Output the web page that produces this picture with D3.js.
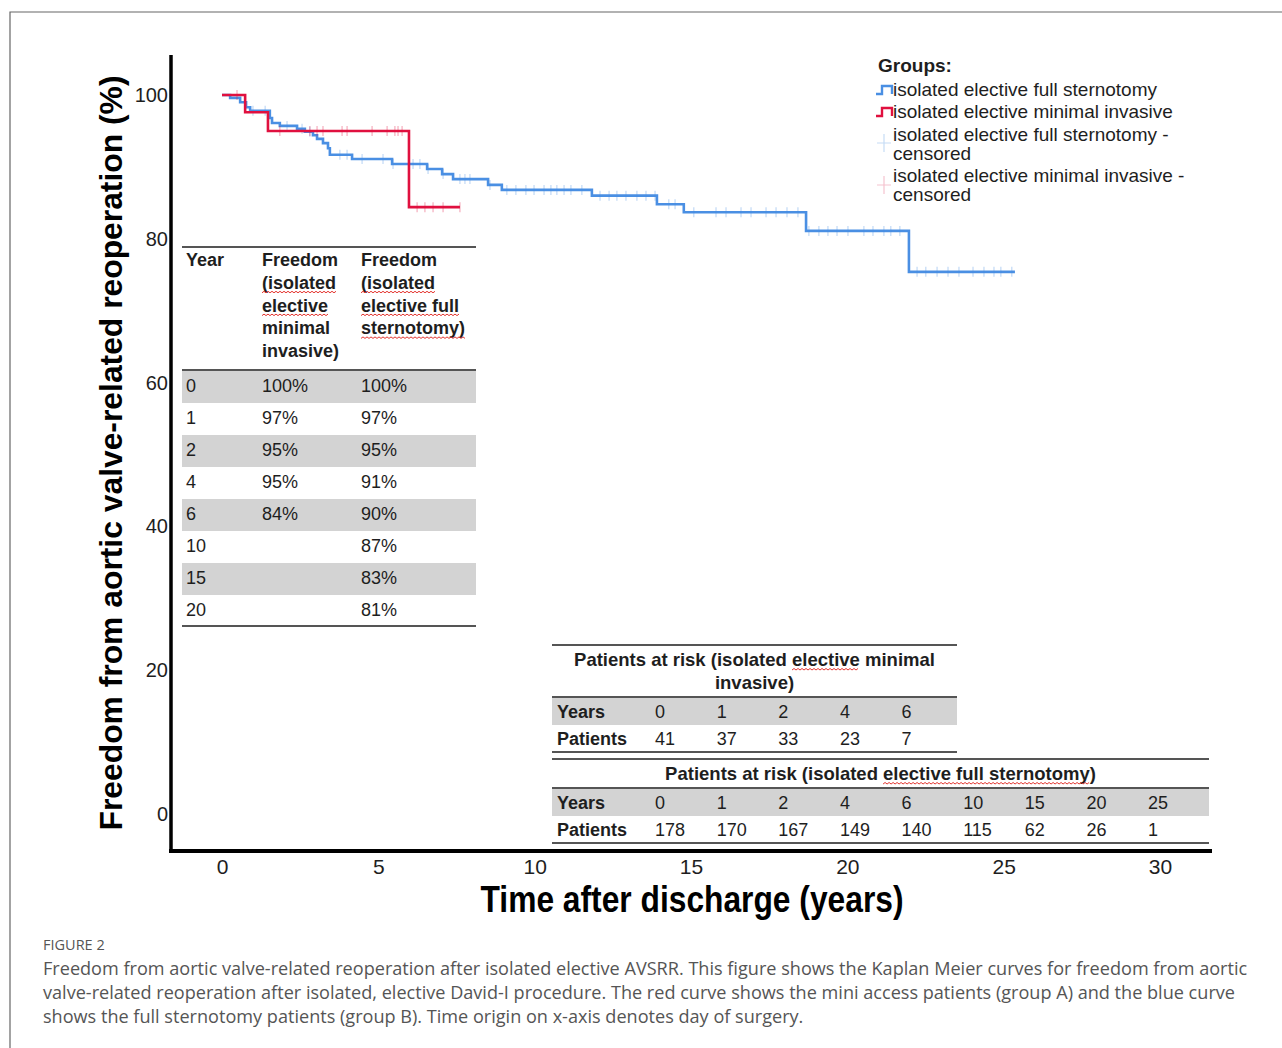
<!DOCTYPE html>
<html>
<head>
<meta charset="utf-8">
<script src="https://cdn.jsdelivr.net/npm/d3@7"></script>
<style>
  body { margin: 0; background: #fff; }
</style>
</head>
<body>
<div id="my_viz"></div>
<script>
var width = 1282,
    height = 1048;

// axis ticks
var xTicks = [0, 5, 10, 15, 20, 25, 30];
var yTicks = [0, 20, 40, 60, 80, 100];

// Kaplan-Meier steps, full sternotomy (years, % freedom)
var fullTimes = [0, 0.26, 0.58, 0.77, 0.9, 1.53, 1.6, 1.85, 2.4, 2.65, 2.91, 3.04, 3.23, 3.39, 3.45, 4.16, 5.44, 6.56, 7.04, 7.39, 8.51, 8.95, 11.83, 13.91, 14.77, 18.68, 21.97, 25.36];
var fullSurv  = [100, 99.6, 99.0, 98.3, 97.8, 96.8, 96.1, 95.7, 95.3, 94.9, 94.4, 93.9, 93.3, 92.6, 91.7, 91.1, 90.4, 89.7, 89.0, 88.3, 87.5, 86.8, 86.0, 84.8, 83.7, 81.1, 75.4, 75.4];
var fullCensor = [0.99, 1.38, 2.08, 2.56, 2.81, 3.77, 4.0, 4.48, 5.15, 5.47, 6.11, 6.33, 6.59, 7.07, 7.61, 7.77, 7.93, 8.57, 9.11, 9.4, 9.72, 9.98, 10.3, 10.52, 10.71, 10.94, 11.16, 11.51, 12.09, 12.38, 12.63, 12.92, 13.27, 13.56, 13.85, 14.29, 14.49, 15.09, 15.8, 16.12, 16.6, 16.92, 17.4, 17.72, 18.07, 18.42, 18.77, 19.09, 19.38, 19.67, 20.02, 20.53, 20.82, 21.17, 21.39, 21.68, 22.23, 22.51, 22.87, 23.22, 23.57, 24.02, 24.37, 24.69, 24.91, 25.26];

// Kaplan-Meier steps, minimal invasive
var miniTimes = [0, 0.74, 1.47, 5.98, 7.61];
var miniSurv  = [100, 97.6, 95.0, 84.4, 84.4];
var miniCensor = [0.48, 1.85, 2.81, 3.04, 3.23, 3.84, 4.0, 4.8, 5.28, 5.53, 5.63, 5.76, 6.24, 6.49, 6.75, 7.07, 7.61];

// freedom table
var freedomYears = ["0", "1", "2", "4", "6", "10", "15", "20"];
var freedomMini  = ["100%", "97%", "95%", "95%", "84%", "", "", ""];
var freedomFull  = ["100%", "97%", "95%", "91%", "90%", "87%", "83%", "81%"];

// patients at risk
var riskMiniYears = [0, 1, 2, 4, 6];
var riskMiniPatients = [41, 37, 33, 23, 7];
var riskFullYears = [0, 1, 2, 4, 6, 10, 15, 20, 25];
var riskFullPatients = [178, 170, 167, 149, 140, 115, 62, 26, 1];

var legendLabels = ["isolated elective full sternotomy", "isolated elective minimal invasive",
                    "isolated elective full sternotomy -", "isolated elective minimal invasive -"];

var blue = "#4a8fe3",
    red = "#e0103f",
    textCol = "#1e1e1e",
    narrow = "'Liberation Sans Narrow', 'Liberation Sans', Arial, sans-serif";

var svg = d3.select("#my_viz")
    .append("svg")
    .attr("width", width)
    .attr("height", height)
    .attr("font-family", "'Liberation Sans', Arial, sans-serif")
    .style("background", "white");

// frame of the figure
svg.append("path")
    .attr("d", "M10,1048 V12 H1282")
    .attr("fill", "none")
    .attr("stroke", "#666")
    .attr("stroke-width", 1.2);

var x = d3.scaleLinear().domain([0, 30]).range([222, 1160]);
var y = d3.scaleLinear().domain([0, 100]).range([814, 95]);

// axes
var xAxis = svg.append("g")
    .attr("transform", "translate(0,851)")
    .call(d3.axisBottom(x).tickValues(xTicks).tickSize(0));
xAxis.attr("font-family", narrow).attr("font-size", 21);
xAxis.select(".domain").remove();
xAxis.selectAll("text")
    .attr("y", 23).attr("dy", 0)
    .attr("fill", textCol);

var yAxis = svg.append("g")
    .attr("transform", "translate(171,0)")
    .call(d3.axisLeft(y).tickValues(yTicks).tickSize(0));
yAxis.attr("font-family", "'Liberation Sans', Arial, sans-serif").attr("font-size", 20);
yAxis.select(".domain").remove();
yAxis.selectAll("text")
    .attr("x", -3)
    .attr("fill", textCol);

svg.append("line").attr("x1", 171).attr("x2", 171).attr("y1", 55).attr("y2", 853)
    .attr("stroke", "black").attr("stroke-width", 3.5);
svg.append("line").attr("x1", 169).attr("x2", 1212).attr("y1", 851).attr("y2", 851)
    .attr("stroke", "black").attr("stroke-width", 4);

svg.append("text")
    .attr("x", 692).attr("y", 912)
    .attr("text-anchor", "middle")
    .attr("font-family", narrow)
    .attr("font-size", 36)
    .attr("font-weight", "bold")
    .attr("textLength", 423).attr("lengthAdjust", "spacingAndGlyphs")
    .attr("fill", "black")
    .text("Time after discharge (years)");

svg.append("text")
    .attr("transform", "translate(122,453) rotate(-90)")
    .attr("text-anchor", "middle")
    .attr("font-size", 31)
    .attr("font-weight", "bold")
    .attr("textLength", 755).attr("lengthAdjust", "spacingAndGlyphs")
    .attr("fill", "black")
    .text("Freedom from aortic valve-related reoperation (%)");

// curves
var step = d3.line()
    .x(function (d) { return x(d[0]); })
    .y(function (d) { return y(d[1]); })
    .curve(d3.curveStepAfter);

function survAt(times, surv, t) {
    var s = surv[0];
    for (var i = 0; i < times.length; i++) { if (times[i] <= t) s = surv[i]; }
    return s;
}

var groups = [
    { times: fullTimes, surv: fullSurv, censor: fullCensor, color: blue },
    { times: miniTimes, surv: miniSurv, censor: miniCensor, color: red }
];

groups.forEach(function (g) {
    var pts = g.times.map(function (t, i) { return [t, g.surv[i]]; });
    svg.append("path")
        .datum(pts)
        .attr("d", step)
        .attr("fill", "none")
        .attr("stroke", g.color)
        .attr("stroke-width", 2.6);

    svg.append("g").selectAll("line")
        .data(g.censor)
        .enter().append("line")
        .attr("x1", function (d) { return x(d); })
        .attr("x2", function (d) { return x(d); })
        .attr("y1", function (d) { return y(survAt(g.times, g.surv, d)) - 5; })
        .attr("y2", function (d) { return y(survAt(g.times, g.surv, d)) + 5; })
        .attr("stroke", g.color)
        .attr("stroke-opacity", 0.35)
        .attr("stroke-width", 1.2);
});

// legend
var legend = svg.append("g").attr("transform", "translate(876,0)");
legend.append("text").attr("x", 2).attr("y", 72)
    .attr("font-size", 19).attr("font-weight", "bold").attr("fill", textCol)
    .text("Groups:");

[{ c: blue, y: 96 }, { c: red, y: 118 }].forEach(function (d) {
    legend.append("path")
        .attr("d", "M0," + (d.y - 2) + " h6 v-8 h10 v8")
        .attr("fill", "none").attr("stroke", d.c).attr("stroke-width", 2.4);
});
[{ c: "#c6dcf6", y: 143 }, { c: "#f6c3cf", y: 185 }].forEach(function (d) {
    legend.append("path")
        .attr("d", "M8," + (d.y - 9) + " v18 M1," + d.y + " h14")
        .attr("fill", "none").attr("stroke", d.c).attr("stroke-width", 1.2);
});

var legendLines = [
    { t: legendLabels[0], y: 96 },
    { t: legendLabels[1], y: 118 },
    { t: legendLabels[2], y: 141 },
    { t: "censored", y: 160 },
    { t: legendLabels[3], y: 182 },
    { t: "censored", y: 201 }
];
legend.selectAll(".legends").data(legendLines).enter()
    .append("text")
    .classed("legends", true)
    .attr("x", 17)
    .attr("y", function (d) { return d.y; })
    .attr("font-size", 19)
    .attr("fill", textCol)
    .text(function (d) { return d.t; });

// wavy spell-check underline
function squiggle(x0, x1, yy) {
    var p = "M" + x0 + "," + yy;
    var up = true;
    for (var xx = x0 + 2; xx <= x1; xx += 2) {
        p += " L" + xx + "," + (yy + (up ? -1.5 : 0));
        up = !up;
    }
    svg.append("path").attr("d", p).attr("fill", "none")
        .attr("stroke", "#e3342f").attr("stroke-width", 1);
}
function underlineWord(textNode, word, dy) {
    var s = textNode.textContent;
    var i = s.indexOf(word);
    if (i < 0) return;
    var x0 = +textNode.getAttribute("x") + (i > 0 ? textNode.getSubStringLength(0, i) : 0);
    var w = textNode.getSubStringLength(i, word.length);
    var anchor = textNode.getAttribute("text-anchor");
    if (anchor === "middle") x0 -= textNode.getComputedTextLength() / 2;
    squiggle(x0, x0 + w, +textNode.getAttribute("y") + dy);
}

// freedom table
var ft = svg.append("g");
var rowTop = 371, rowH = 32;
freedomYears.forEach(function (d, i) {
    if (i % 2 === 0) {
        ft.append("rect").attr("x", 182).attr("y", rowTop + i * rowH)
            .attr("width", 294).attr("height", rowH).attr("fill", "#d3d3d3");
    }
    var by = rowTop + i * rowH + 21;
    ft.append("text").attr("x", 186).attr("y", by).attr("font-size", 18).attr("fill", textCol).text(d);
    ft.append("text").attr("x", 262).attr("y", by).attr("font-size", 18).attr("fill", textCol).text(freedomMini[i]);
    ft.append("text").attr("x", 361).attr("y", by).attr("font-size", 18).attr("fill", textCol).text(freedomFull[i]);
});
[247, 370, 626].forEach(function (ly) {
    ft.append("line").attr("x1", 182).attr("x2", 476).attr("y1", ly).attr("y2", ly)
        .attr("stroke", "#555").attr("stroke-width", 2);
});
ft.append("text").attr("x", 186).attr("y", 266).attr("font-size", 18)
    .attr("font-weight", "bold").attr("fill", textCol).text("Year");
var headMini = ["Freedom", "(isolated", "elective", "minimal", "invasive)"];
var headFull = ["Freedom", "(isolated", "elective full", "sternotomy)"];
var hm = headMini.map(function (t, i) {
    return ft.append("text").attr("x", 262).attr("y", 266 + i * 22.8).attr("font-size", 18)
        .attr("font-weight", "bold").attr("fill", textCol).text(t).node();
});
var hf = headFull.map(function (t, i) {
    return ft.append("text").attr("x", 361).attr("y", 266 + i * 22.8).attr("font-size", 18)
        .attr("font-weight", "bold").attr("fill", textCol).text(t).node();
});
underlineWord(hm[1], "(isolated", 4);
underlineWord(hm[2], "elective", 4);
underlineWord(hf[1], "(isolated", 4);
underlineWord(hf[2], "elective full", 4);
underlineWord(hf[3], "sternotomy)", 4);

// patients at risk tables
var colX = d3.scaleLinear().domain([0, 8]).range([655, 1148]);

function riskTable(top, right, titleLines, years, patients) {
    var g = svg.append("g");
    var titleNodes = titleLines.map(function (t, i) {
        return g.append("text").attr("x", (552 + right) / 2).attr("y", top + 21 + i * 23)
            .attr("text-anchor", "middle").attr("font-size", 18.5)
            .attr("font-weight", "bold").attr("fill", textCol).text(t).node();
    });
    var hTop = top + 4 + titleLines.length * 23 + 3;
    g.append("rect").attr("x", 552).attr("y", hTop).attr("width", right - 552)
        .attr("height", 27).attr("fill", "#d3d3d3");
    g.append("text").attr("x", 557).attr("y", hTop + 20).attr("font-size", 18)
        .attr("font-weight", "bold").attr("fill", textCol).text("Years");
    g.append("text").attr("x", 557).attr("y", hTop + 47).attr("font-size", 18)
        .attr("font-weight", "bold").attr("fill", textCol).text("Patients");
    g.selectAll(".yr").data(years).enter().append("text")
        .attr("x", function (d, i) { return colX(i); }).attr("y", hTop + 20)
        .attr("font-size", 18).attr("fill", textCol).text(function (d) { return d; });
    g.selectAll(".pt").data(patients).enter().append("text")
        .attr("x", function (d, i) { return colX(i); }).attr("y", hTop + 47)
        .attr("font-size", 18).attr("fill", textCol).text(function (d) { return d; });
    [top, hTop - 1, hTop + 54].forEach(function (ly) {
        g.append("line").attr("x1", 552).attr("x2", right).attr("y1", ly).attr("y2", ly)
            .attr("stroke", "#555").attr("stroke-width", 2);
    });
    return titleNodes;
}

var t1 = riskTable(645, 957, ["Patients at risk (isolated elective minimal", "invasive)"],
    riskMiniYears, riskMiniPatients);
underlineWord(t1[0], "elective", 4);
var t2 = riskTable(759, 1209, ["Patients at risk (isolated elective full sternotomy)"],
    riskFullYears, riskFullPatients);
underlineWord(t2[0], "elective full sternotomy", 4);

// caption
var cap = svg.append("g").attr("font-family", "'Open Sans', 'Noto Sans', sans-serif");
cap.append("text").attr("x", 43).attr("y", 950).attr("font-size", 14.5)
    .attr("fill", "#555").text("FIGURE 2");
var capLines = [
    "Freedom from aortic valve-related reoperation after isolated elective AVSRR. This figure shows the Kaplan Meier curves for freedom from aortic",
    "valve-related reoperation after isolated, elective David-I procedure. The red curve shows the mini access patients (group A) and the blue curve",
    "shows the full sternotomy patients (group B). Time origin on x-axis denotes day of surgery."
];
cap.selectAll(".cap").data(capLines).enter().append("text")
    .attr("x", 43)
    .attr("y", function (d, i) { return 975 + i * 24; })
    .attr("font-size", 18.1)
    .attr("fill", "#555")
    .text(function (d) { return d; });
</script>
</body>
</html>
